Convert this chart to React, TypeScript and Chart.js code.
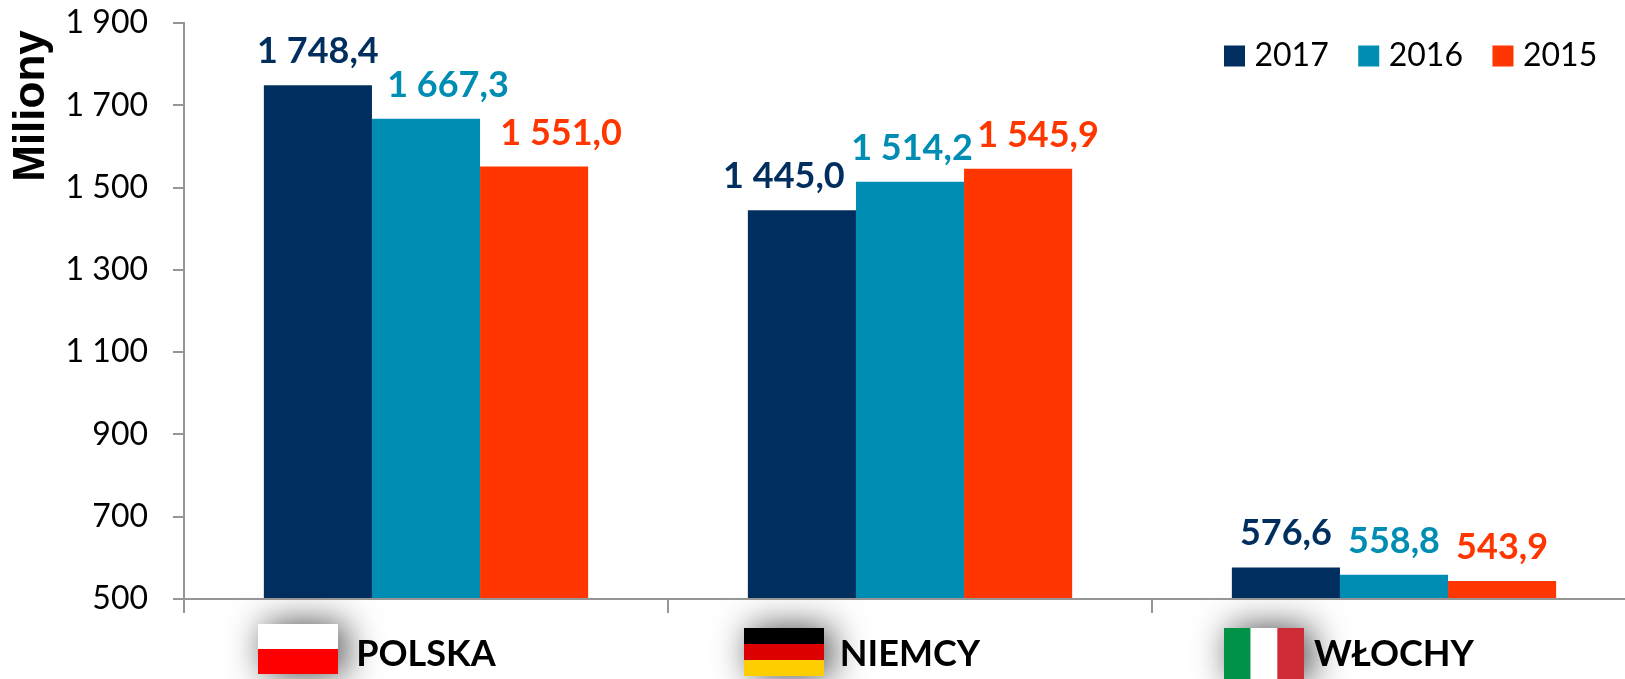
import React, { useEffect, useRef } from "react";
import { Chart, registerables } from "chart.js";

Chart.register(...registerables);

const categories = ["POLSKA", "NIEMCY", "WŁOCHY"];
const years = ["2017", "2016", "2015"];
const values2017 = [1748.4, 1445.0, 576.6];
const values2016 = [1667.3, 1514.2, 558.8];
const values2015 = [1551.0, 1545.9, 543.9];
const seriesValues = [values2017, values2016, values2015];
const seriesColors = ["#002F5F", "#008DB3", "#FF3600"];
const axisTitle = "Miliony";

const spaced = (s: string) => s.replace(/\B(?=(\d{3})+(?!\d))/g, " ");
const fmtTick = (v: number) => spaced(String(v));
const fmtVal = (v: number) => {
  const [a, b] = v.toFixed(1).split(".");
  return spaced(a) + "," + b;
};

// horizontal nudges of value labels so that they do not collide
const labelShift = [
  [0, -18, 0],
  [22, 2, 0],
  [27, 20, 0],
];

const flagsPlugin = {
  id: "extras",
  beforeLayout(chart: any) {
    const l = chart.legend;
    if (l && !l.__patched) {
      const fit = l.fit.bind(l);
      l.fit = () => { fit(); l.height = 0; };
      l.__patched = true;
    }
  },
  afterLayout(chart: any) {
    const l = chart.legend;
    if (l) {
      l.left = 1194.5; l.right = 1636;
      l.top = 4; l.bottom = 100;
    }
  },
  afterDatasetsDraw(chart: any) {
    const { ctx, scales } = chart;
    ctx.save();
    ctx.textAlign = "center";
    ctx.textBaseline = "alphabetic";
    ctx.font = "bold 36px Lato";
    seriesValues.forEach((vals, s) => {
      const meta = chart.getDatasetMeta(s);
      vals.forEach((v, i) => {
        const el = meta.data[i];
        ctx.fillStyle = seriesColors[s];
        ctx.fillText(fmtVal(v), el.x + labelShift[s][i], scales.y.getPixelForValue(v) - 22);
      });
    });
    ctx.restore();

    ctx.save();
    ctx.translate(44, 106);
    ctx.rotate(-Math.PI / 2);
    ctx.textAlign = "center";
    ctx.textBaseline = "alphabetic";
    ctx.font = "bold 44px 'Liberation Sans'";
    ctx.fillStyle = "#000";
    ctx.fillText(axisTitle, 0, 0);
    ctx.restore();

    const c = (i: number) => scales.x.getPixelForTick(i);
    const w = 80;
    const flag = (x: number, y: number, h: number, paint: () => void) => {
      ctx.save();
      ctx.shadowColor = "rgba(0,0,0,0.75)";
      ctx.shadowBlur = 36;
      ctx.shadowOffsetX = 7;
      ctx.shadowOffsetY = 0;
      ctx.fillStyle = "#fff";
      ctx.fillRect(x, y, w, h);
      ctx.restore();
      paint();
    };
    const px = c(0) - 168, py = 624;
    flag(px, py, 50, () => {
      ctx.fillStyle = "#fff"; ctx.fillRect(px, py, w, 25);
      ctx.fillStyle = "#FF0000"; ctx.fillRect(px, py + 25, w, 25);
    });
    const gx = c(1) - 166, gy = 628;
    flag(gx, gy, 48, () => {
      ctx.fillStyle = "#000"; ctx.fillRect(gx, gy, w, 16);
      ctx.fillStyle = "#DD0000"; ctx.fillRect(gx, gy + 16, w, 16);
      ctx.fillStyle = "#FFCE00"; ctx.fillRect(gx, gy + 32, w, 16);
    });
    const ix = c(2) - 170, iy = 628;
    flag(ix, iy, 52, () => {
      const t = w / 3;
      ctx.fillStyle = "#009246"; ctx.fillRect(ix, iy, t, 52);
      ctx.fillStyle = "#fff"; ctx.fillRect(ix + t, iy, t, 52);
      ctx.fillStyle = "#CE2B37"; ctx.fillRect(ix + 2 * t, iy, t, 52);
    });
    // labels redrawn above the shadows
    ctx.save();
    ctx.font = "bold 36px Lato";
    ctx.textAlign = "center";
    ctx.textBaseline = "alphabetic";
    ctx.fillStyle = "#000";
    categories.forEach((t, i) => ctx.fillText(t, c(i), 666));
    ctx.restore();
  },
};

export default function App() {
  const ref = useRef<HTMLCanvasElement>(null);
  useEffect(() => {
    const chart = new Chart(ref.current!, {
      type: "bar",
      data: {
        labels: categories,
        datasets: years.map((y, i) => ({
          label: y,
          data: seriesValues[i],
          backgroundColor: seriesColors[i],
          categoryPercentage: 0.67,
          barPercentage: 1,
        })),
      },
      plugins: [flagsPlugin],
      options: {
        animation: false,
        responsive: false,
        layout: { padding: { top: 23, right: 2, left: 0, bottom: 0 } },
        plugins: {
          tooltip: { enabled: false },
          title: { display: false },
          legend: {
            position: "top",
            align: "start",
            labels: {
              usePointStyle: true,
              pointStyle: "rect",
              boxWidth: 8,
              boxHeight: 21,
              padding: 36,
              color: "#000",
              font: { family: "Lato", size: 32 },
            },
          },
        },
        scales: {
          x: {
            afterFit: (s: any) => { s.height = 80; },
            grid: { offset: true, drawOnChartArea: false, drawTicks: true, tickLength: 14, color: "#969696", lineWidth: 2 },
            border: { color: "#969696", width: 2, z: 1 },
            ticks: { display: false },
          },
          y: {
            min: 500,
            max: 1900,
            afterFit: (s: any) => { s.width = 184; s.paddingTop = 0; s.paddingBottom = 0; },
            grid: { drawOnChartArea: false, tickLength: 11, color: "#969696", lineWidth: 2 },
            border: { color: "#969696", width: 2 },
            ticks: {
              stepSize: 200,
              padding: 25,
              color: "#000",
              font: { family: "Lato", size: 32 },
              callback: (v: any) => fmtTick(Number(v)),
            },
          },
        },
      },
    } as any);
    return () => chart.destroy();
  }, []);
  return (
    <div style={{ position: "fixed", inset: 0, width: 1625, height: 679, overflow: "hidden", background: "#fff" }}>
      <canvas ref={ref} width={1638} height={679} style={{ display: "block", width: 1638, height: 679 }} />
    </div>
  );
}
